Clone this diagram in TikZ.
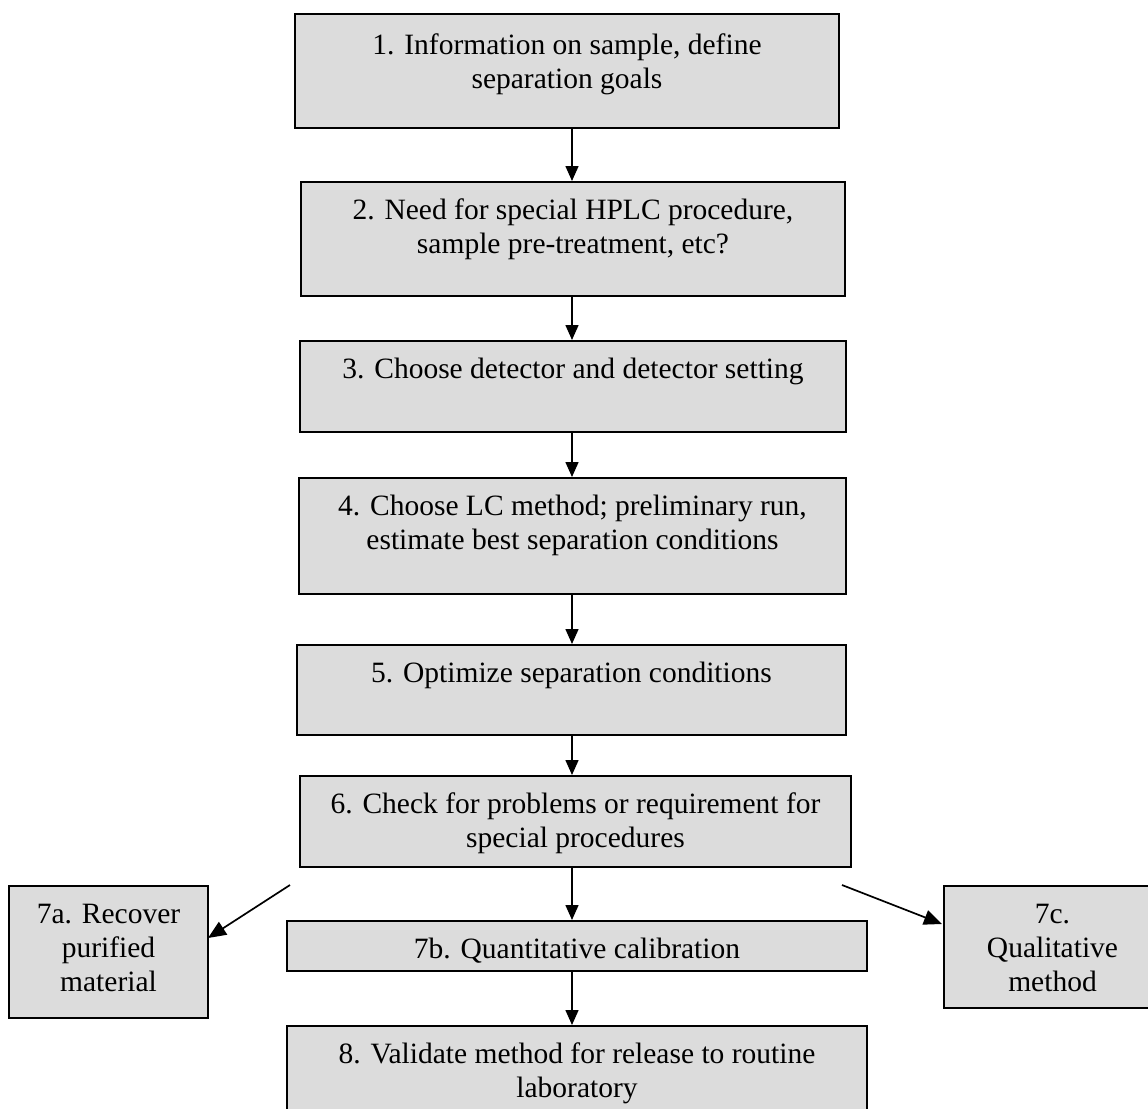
\documentclass[tikz,border=0pt]{standalone}
\usepackage{fontspec}
\setmainfont{Liberation Serif}
\usetikzlibrary{arrows.meta,calc}
\definecolor{boxgray}{RGB}{220,220,220}
\tikzset{
  stepbox/.style={draw=black, line width=1pt, fill=boxgray, rectangle, inner sep=0pt, anchor=north west},
  steptext/.style={anchor=north, inner sep=0pt, align=center, font=\fontsize{14.75pt}{17pt}\selectfont},
  arr/.style={line width=0.75pt, -{Triangle[width=6.5pt,length=7.5pt]}},
  diagarr/.style={line width=0.85pt, -{Triangle[width=7.5pt,length=9pt]}}
}
\begin{document}
\begin{tikzpicture}[x=0.5pt,y=-0.5pt]
\useasboundingbox (0,0) rectangle (1148,1109);
\begin{scope}
\clip (0,0) rectangle (1148,1109);
\fill[white] (0,0) rectangle (1148,1109);
% boxes
\node[stepbox, minimum width=272pt, minimum height=57pt] (b1) at (294,13) {};
\node[stepbox, minimum width=272pt, minimum height=57pt] (b2) at (300,181) {};
\node[stepbox, minimum width=273pt, minimum height=45.5pt] (b3) at (299,340) {};
\node[stepbox, minimum width=273.5pt, minimum height=58pt] (b4) at (298,477) {};
\node[stepbox, minimum width=274.5pt, minimum height=45pt] (b5) at (296,644) {};
\node[stepbox, minimum width=275.5pt, minimum height=45.5pt] (b6) at (299,775) {};
\node[stepbox, minimum width=99.5pt, minimum height=66pt] (b7a) at (8,885) {};
\node[stepbox, minimum width=290pt, minimum height=25pt] (b7b) at (286,920) {};
\node[stepbox, minimum width=108.5pt, minimum height=61pt] (b7c) at (943,885) {};
\node[stepbox, minimum width=290pt, minimum height=52pt] (b8) at (286,1025) {};
% texts
\node[steptext] (t1) at ($(b1.north)+(0,17)$) {\strut 1. Information on sample, define\\separation goals};
\node[steptext] (t2) at ($(b2.north)+(0,14)$) {\strut 2. Need for special HPLC procedure,\\sample pre-treatment, etc?};
\node[steptext] (t3) at ($(b3.north)+(0,14)$) {\strut 3. Choose detector and detector setting};
\node[steptext] (t4) at ($(b4.north)+(0,14)$) {\strut 4. Choose LC method; preliminary run,\\estimate best separation conditions};
\node[steptext] (t5) at ($(b5.north)+(0,14)$) {\strut 5. Optimize separation conditions};
\node[steptext] (t6) at ($(b6.north)+(0,14)$) {\strut 6. Check for problems or requirement for\\special procedures};
\node[steptext] (t7a) at ($(b7a.north)+(0,14)$) {\strut 7a. Recover\\purified\\material};
\node[steptext] (t7b) at ($(b7b.north)+(0,14)$) {\strut 7b. Quantitative calibration};
\node[steptext] (t7c) at ($(b7c.north)+(0,14)$) {\strut 7c.\\Qualitative\\method};
\node[steptext] (t8) at ($(b8.north)+(0,14)$) {\strut 8. Validate method for release to routine\\laboratory};
% connectors
\coordinate (ax) at (572,0);
\draw[arr] (b1.south -| ax) -- (b2.north -| ax);
\draw[arr] (b2.south -| ax) -- (b3.north -| ax);
\draw[arr] (b3.south -| ax) -- (b4.north -| ax);
\draw[arr] (b4.south -| ax) -- (b5.north -| ax);
\draw[arr] (b5.south -| ax) -- (b6.north -| ax);
\draw[arr] (b6.south -| ax) -- (b7b.north -| ax);
\draw[arr] (b7b.south -| ax) -- (b8.north -| ax);
\coordinate (sa) at (290,885);
\coordinate (ea) at (208,938);
\coordinate (sc) at (842,885);
\coordinate (ec) at (942,924);
\draw[diagarr] (sa) -- (ea);
\draw[diagarr] (sc) -- (ec);
\end{scope}
\end{tikzpicture}
\end{document}
